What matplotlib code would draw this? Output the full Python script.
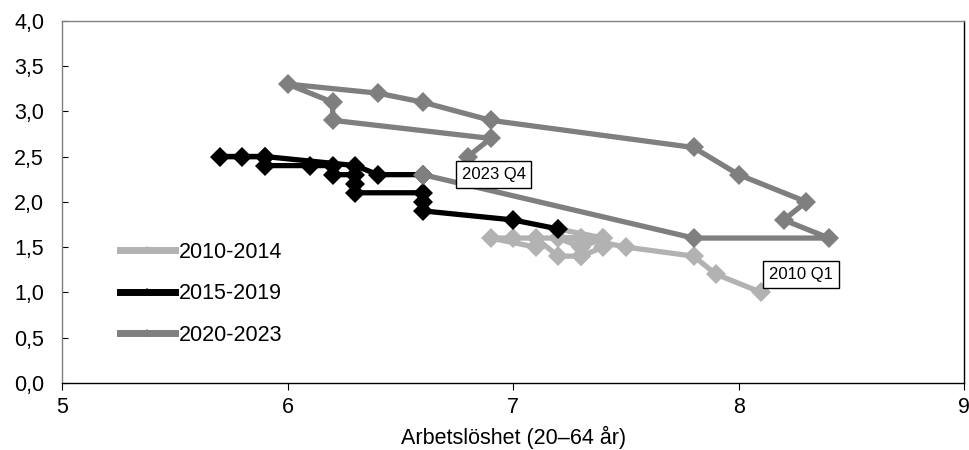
import matplotlib
matplotlib.use("Agg")
import matplotlib.pyplot as plt
from matplotlib.lines import Line2D
from matplotlib.ticker import FuncFormatter

plt.rcParams['font.family'] = ['Liberation Sans', 'DejaVu Sans']

# Arbetslöshet (x) mot vakansgrad (y), kvartalsvis
u_2010 = [8.1, 7.9, 7.8, 7.5, 7.3, 7.0, 6.9, 7.1, 7.1, 7.2,
          7.3, 7.4, 7.4, 7.3, 7.3, 7.3, 7.2, 7.3, 7.4, 7.2]
v_2010 = [1.0, 1.2, 1.4, 1.5, 1.6, 1.6, 1.6, 1.5, 1.6, 1.4,
          1.4, 1.5, 1.6, 1.5, 1.4, 1.6, 1.6, 1.5, 1.6, 1.7]

u_2015 = [7.2, 7.0, 6.6, 6.6, 6.6, 6.3, 6.3, 6.3, 6.2, 6.2,
          6.1, 5.9, 5.9, 5.8, 5.7, 5.9, 6.3, 6.4, 6.6]
v_2015 = [1.7, 1.8, 1.9, 2.0, 2.1, 2.1, 2.2, 2.3, 2.3, 2.4,
          2.4, 2.4, 2.5, 2.5, 2.5, 2.5, 2.4, 2.3, 2.3]

u_2020 = [6.6, 7.8, 8.4, 8.2, 8.3, 8.0, 7.8, 6.9, 6.6, 6.4,
          6.0, 6.2, 6.2, 6.9, 6.8]
v_2020 = [2.3, 1.6, 1.6, 1.8, 2.0, 2.3, 2.6, 2.9, 3.1, 3.2,
          3.3, 3.1, 2.9, 2.7, 2.5]

labels = ["2010-2014", "2015-2019", "2020-2023"]
colors = ["#b2b2b2", "#000000", "#7f7f7f"]

fig = plt.figure(figsize=(9.7, 4.5), dpi=100)
ax = fig.add_axes([0.064, 0.149, 0.930, 0.805])

series = [(u_2010, v_2010), (u_2015, v_2015), (u_2020, v_2020)]
for (u, v), c in zip(series, colors):
    ax.plot(u, v, color=c, lw=3.8, marker="D", markersize=10,
            markeredgewidth=0, solid_joinstyle="round", solid_capstyle="round")

ax.set_xlim(5, 9)
ax.set_ylim(0, 4.0)
ax.set_xticks([5, 6, 7, 8, 9])
ax.set_yticks([0, 0.5, 1.0, 1.5, 2.0, 2.5, 3.0, 3.5, 4.0])
ax.yaxis.set_major_formatter(FuncFormatter(lambda y, p: f"{y:.1f}".replace(".", ",")))
ax.tick_params(axis="y", direction="in", length=4, labelsize=15.5, pad=13)
ax.tick_params(axis="x", direction="out", length=5, labelsize=15.5, pad=5)
ax.set_xlabel("Arbetslöshet (20–64 år)", fontsize=15.5, labelpad=6)

for side in ["left", "top"]:
    ax.spines[side].set_color("#808080")
for side in ["bottom", "right"]:
    ax.spines[side].set_color("#000000")
for s in ax.spines.values():
    s.set_linewidth(1.0)

box = dict(boxstyle="square,pad=0.35", fc="white", ec="black", lw=1.0)
ax.text(6.913, 2.30, "2023 Q4", fontsize=12, ha="center", va="center", bbox=box)
ax.text(8.276, 1.20, "2010 Q1", fontsize=12, ha="center", va="center", bbox=box)

handles = [Line2D([], [], color=c, lw=5, marker="D", markersize=4, markeredgewidth=0)
           for c in colors]
ax.legend(handles, labels, loc="center left", bbox_to_anchor=(0.064, 0.246),
          frameon=False, fontsize=15.5, handlelength=2.55, handletextpad=0.2,
          labelspacing=0.95, borderpad=0, borderaxespad=0)

fig.savefig("out.png", dpi=100)
